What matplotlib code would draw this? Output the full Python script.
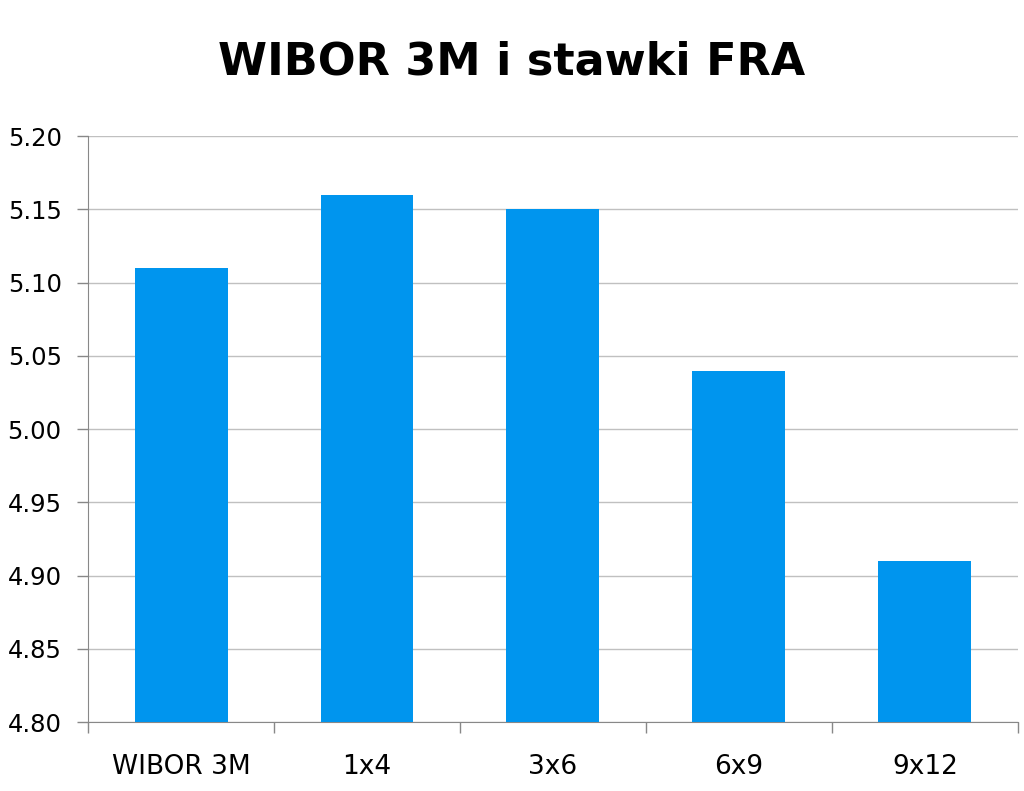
import matplotlib
matplotlib.use("Agg")
import matplotlib.pyplot as plt
import numpy as np

# data
categories = ["WIBOR 3M", "1x4", "3x6", "6x9", "9x12"]
rates = [5.11, 5.16, 5.15, 5.04, 4.91]
yticks = [4.80, 4.85, 4.90, 4.95, 5.00, 5.05, 5.10, 5.15, 5.20]

fig = plt.figure(figsize=(10.24, 7.91), dpi=100)
ax = fig.add_axes([0.086, 0.087, 0.908, 0.741])

x = np.arange(len(categories))
ax.bar(x, rates, width=0.5, color="#0095EE", zorder=3)

ax.set_xlim(-0.5, len(categories) - 0.5)
ax.set_ylim(4.80, 5.20)
ax.set_yticks(yticks)
ax.set_yticklabels(["%.2f" % v for v in yticks], fontsize=17.5)
ax.yaxis.grid(True, color="#c0c0c0", linewidth=1, zorder=0)

# category labels centred, ticks on the boundaries
ax.set_xticks(x)
ax.set_xticklabels(categories, fontsize=19)
ax.tick_params(axis="x", length=0, pad=23)
ax.set_xticks(np.arange(-0.5, len(categories)), minor=True)
ax.tick_params(axis="x", which="minor", length=8, color="#888888", width=1)
ax.tick_params(axis="y", length=8, color="#888888", width=1, pad=11)

for side in ["top", "right"]:
    ax.spines[side].set_visible(False)
for side in ["left", "bottom"]:
    ax.spines[side].set_color("#888888")

fig.text(0.5, 0.921, "WIBOR 3M i stawki FRA", ha="center", va="center",
         fontsize=32, fontweight="bold")

fig.savefig("out.png", dpi=100)
